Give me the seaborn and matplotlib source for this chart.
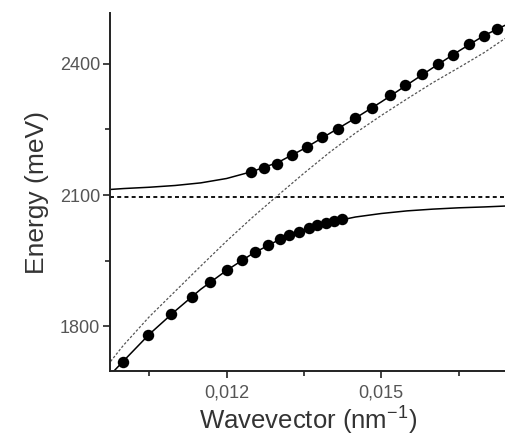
import numpy as np
import pandas as pd
import seaborn as sns
import matplotlib.pyplot as plt

# measured polariton branches (wavevector in nm^-1, energy in meV)
lower_k = [0.00999, 0.01048, 0.01093, 0.01132, 0.01168, 0.01201, 0.01230, 0.01256,
           0.01280, 0.01303, 0.01321, 0.01340, 0.01360, 0.01376, 0.01392, 0.01408, 0.01423]
lower_e = [1719, 1780, 1828, 1868, 1902, 1929, 1951, 1970,
           1986, 1999, 2009, 2015, 2024, 2031, 2037, 2041, 2045]
upper_k = [0.01248, 0.01272, 0.01297, 0.01327, 0.01356, 0.01386, 0.01417, 0.01449, 0.01482,
           0.01517, 0.01547, 0.01579, 0.01610, 0.01640, 0.01671, 0.01699, 0.01725]
upper_e = [2153, 2162, 2172, 2192, 2210, 2233, 2252, 2276, 2299,
           2329, 2351, 2377, 2399, 2420, 2446, 2463, 2479]

curve_k = [0.00975, 0.0100, 0.0105, 0.0110, 0.0115, 0.0120, 0.0125, 0.0130, 0.0135,
           0.0140, 0.0145, 0.0150, 0.0155, 0.0160, 0.0165, 0.0170, 0.0174]
upper_fit = [2113, 2115, 2118, 2122, 2128, 2138, 2154, 2175, 2206,
             2241, 2276, 2313, 2352, 2391, 2429, 2465, 2488]
lower_fit = [1690, 1721, 1782, 1835, 1885, 1928, 1966, 1997, 2020,
             2038, 2050, 2058, 2064, 2068, 2071, 2073, 2075]
photon = [1720, 1757, 1822, 1880, 1938, 1995, 2049, 2100, 2150,
          2198, 2242, 2282, 2320, 2357, 2391, 2426, 2458]
exciton = 2096

points = pd.DataFrame({"k": lower_k + upper_k, "E": lower_e + upper_e})
curves = pd.DataFrame({"k": curve_k, "upper": upper_fit, "lower": lower_fit, "photon": photon})

sns.set_style("ticks")
plt.rcParams['font.family'] = ['Liberation Sans', 'DejaVu Sans']

fig = plt.figure(figsize=(5.05, 4.36), dpi=100)
ax = fig.add_axes([0.218, 0.149, 0.782, 0.821])

# exciton level and bare photon dispersion
ax.axhline(exciton, color="black", lw=1.3, ls=(0, (2.2, 1.8)), zorder=1)
sns.lineplot(data=curves, x="k", y="photon", ax=ax, color="#555555", lw=0.9,
             ls=(0, (2.0, 1.5)), zorder=1)
# coupled-oscillator fits
sns.lineplot(data=curves, x="k", y="upper", ax=ax, color="black", lw=1.1, zorder=2)
sns.lineplot(data=curves, x="k", y="lower", ax=ax, color="black", lw=1.1, zorder=2)
sns.scatterplot(data=points, x="k", y="E", ax=ax, color="black", s=68, linewidth=0, zorder=3)

ax.set_xlim(0.00974, 0.0174)
ax.set_ylim(1698, 2516)
ax.set_xticks([0.012, 0.015])
ax.set_xticklabels(["0,012", "0,015"])
ax.set_xticks([0.0105, 0.0135, 0.0165], minor=True)
ax.set_yticks([1800, 2100, 2400])
ax.set_yticks([1950, 2250], minor=True)

for side in ["top", "right"]:
    ax.spines[side].set_visible(False)
for side in ["left", "bottom"]:
    ax.spines[side].set_linewidth(1.4)
    ax.spines[side].set_color("#222222")

ax.tick_params(axis="both", which="major", direction="out", length=5, width=1.2,
               labelsize=13, labelcolor="#555555", color="#222222")
ax.tick_params(axis="x", which="major", pad=5)
ax.tick_params(axis="y", which="major", pad=2)
ax.tick_params(axis="both", which="minor", direction="out", length=3.5, width=1.2, color="#222222")

ax.set_xlabel("Wavevector (nm$^{\\mathregular{-1}}$)", fontsize=18.5, color="#333333", labelpad=1)
ax.set_ylabel("Energy (meV)", fontsize=19, color="#333333", labelpad=8)

fig.savefig("out.png", dpi=100)
